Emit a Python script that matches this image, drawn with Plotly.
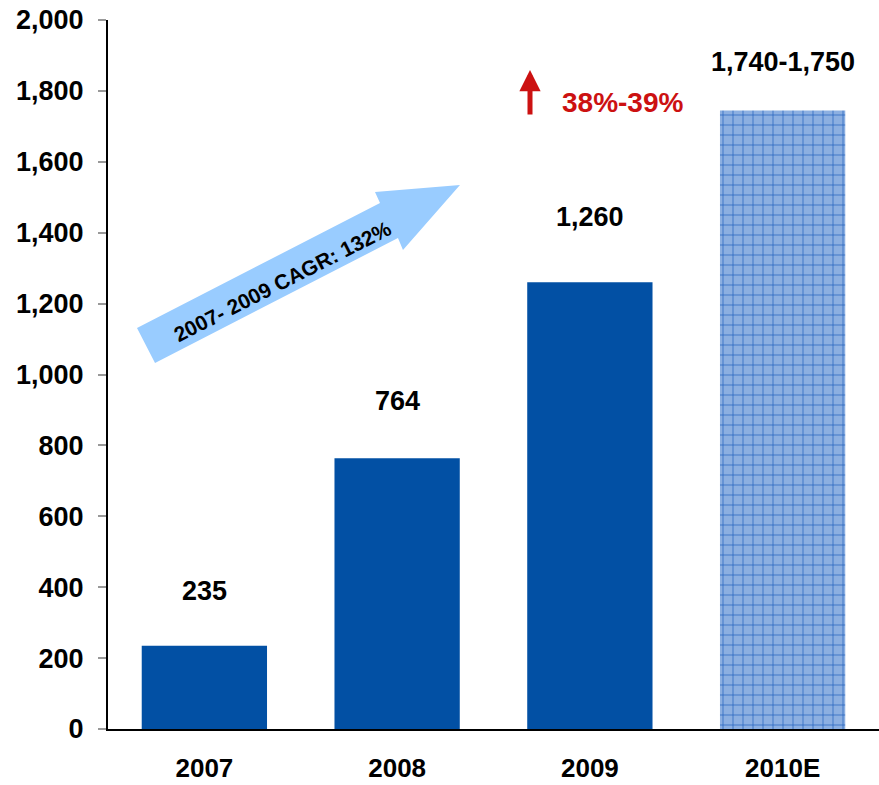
import plotly.graph_objects as go

# Revenue by year (units), with 2010 an estimate
years = ["2007", "2008", "2009", "2010E"]
values = [235, 764, 1260, 1745]
value_labels = ["235", "764", "1,260", "1,740-1,750"]
y_ticks = [0, 200, 400, 600, 800, 1000, 1200, 1400, 1600, 1800, 2000]
y_tick_labels = ["0", "200", "400", "600", "800", "1,000", "1,200", "1,400", "1,600", "1,800", "2,000"]

FONT = "Liberation Sans, Arial, sans-serif"
W, H = 879, 785
M_L, M_R, M_T, M_B = 108, 0, 20, 56

solid = dict(color="#0250a4", line=dict(width=0))
hatched = dict(
    color="#0250a4",
    line=dict(width=0),
    pattern=dict(shape="+", bgcolor="#8cafe1", fgcolor="#2360bd",
                 size=10, solidity=0.14, fillmode="replace"),
)

fig = go.Figure()
fig.add_trace(go.Bar(x=years[:3], y=values[:3], marker=solid, width=0.65,
                     hoverinfo="x+y"))
fig.add_trace(go.Bar(x=years[3:], y=values[3:], marker=hatched, width=0.65,
                     hoverinfo="x+y"))

# value labels above each bar (x given as category index)
shifts = [55, 57, 65, 48]
for i, (v, lab, s) in enumerate(zip(values, value_labels, shifts)):
    fig.add_annotation(x=i, y=v, text=f"<b>{lab}</b>", showarrow=False,
                       yshift=s, font=dict(family=FONT, size=27, color="black"))


def px(xp, yp):
    """Pixel position in the page -> paper coordinates."""
    pw = W - M_L - M_R
    ph = H - M_T - M_B
    return (xp - M_L) / pw, 1 - (yp - M_T) / ph


# light-blue block arrow for the growth callout
arrow_pts = [(137, 328), (380, 203), (375, 192), (460, 185),
             (403, 250), (398, 238), (155, 363)]
path = "M " + " L ".join(f"{px(a, b)[0]:.4f},{px(a, b)[1]:.4f}" for a, b in arrow_pts) + " Z"
fig.add_shape(type="path", path=path, xref="paper", yref="paper",
              fillcolor="#99ccff", line=dict(width=0), layer="below")
cx, cy = px(282, 281)
fig.add_annotation(x=cx, y=cy, xref="paper", yref="paper",
                   xanchor="center", yanchor="middle",
                   text="<b>2007- 2009 CAGR: 132%</b>", showarrow=False,
                   textangle=-27, font=dict(family=FONT, size=21, color="black"))

# red up arrow with the expected growth rate
ax1, ay1 = px(530, 70)
fig.add_annotation(x=ax1, y=ay1, xref="paper", yref="paper",
                   ax=0, ay=46, axref="pixel", ayref="pixel",
                   text="", showarrow=True, arrowhead=2, arrowsize=0.85,
                   arrowwidth=5, arrowcolor="#cc1111")
tx, ty = px(623, 102)
fig.add_annotation(x=tx, y=ty, xref="paper", yref="paper",
                   xanchor="center", yanchor="middle",
                   text="<b>38%-39%</b>", showarrow=False,
                   font=dict(family=FONT, size=28, color="#cc1111"))

fig.update_layout(
    width=W, height=H,
    margin=dict(l=M_L, r=M_R, t=M_T, b=M_B, autoexpand=False),
    paper_bgcolor="white", plot_bgcolor="white",
    showlegend=False, bargap=0.35,
    font=dict(family=FONT, color="black"),
)
fig.update_xaxes(
    type="category", categoryorder="array", categoryarray=years,
    range=[-0.5, len(years) - 0.5], automargin=False, tickangle=0,
    showline=True, linecolor="black", linewidth=2, ticks="",
    tickfont=dict(family=FONT, size=26, color="black"),
    ticklabelstandoff=15,
    tickvals=years, ticktext=[f"<b>{y}</b>" for y in years],
    showgrid=False, zeroline=False,
)
fig.update_yaxes(
    range=[0, 2000], automargin=False,
    showline=True, linecolor="black", linewidth=2,
    ticks="outside", ticklen=8, tickcolor="#999999", tickwidth=2,
    tickvals=y_ticks, ticktext=[f"<b>{t}</b>" for t in y_tick_labels],
    tickfont=dict(family=FONT, size=27, color="black"),
    ticklabelstandoff=9,
    showgrid=False, zeroline=False,
)

fig.write_html("out.html")
